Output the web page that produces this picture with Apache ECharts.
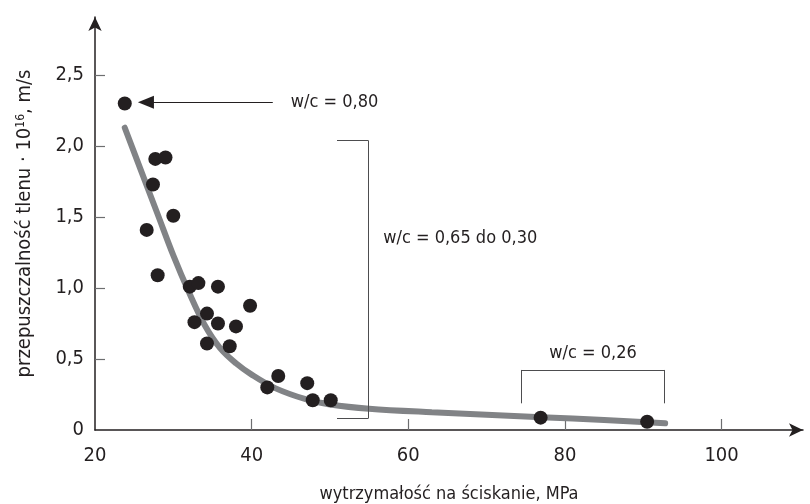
<!DOCTYPE html>
<html>
<head>
<meta charset="utf-8">
<script src="https://cdn.jsdelivr.net/npm/echarts@6/dist/echarts.min.js"></script>
<style>html,body{margin:0;padding:0;background:#fff}#c{width:810px;height:504px}</style>
</head>
<body>
<div id="c"></div>
<script>
// measured points: compressive strength (MPa) and oxygen permeability (·10^16 m/s)
var strengthX = [23.8, 27.7, 29.0, 27.4, 30.0, 26.6, 28.0, 32.1, 33.2, 35.7, 39.8, 34.3, 32.7, 35.7, 38.0, 34.3, 37.2, 42.0, 43.4, 47.1, 47.8, 50.1, 76.9, 90.5];
var permY     = [2.30, 1.91, 1.92, 1.73, 1.51, 1.41, 1.09, 1.01, 1.035, 1.01, 0.875, 0.82, 0.76, 0.75, 0.73, 0.61, 0.59, 0.30, 0.38, 0.33, 0.21, 0.21, 0.087, 0.058];
// fitted trend curve
var fitX = [23.8, 26, 28, 30, 32, 34, 36, 38, 40, 43, 47, 50, 55, 63, 70, 77, 85, 92.8];
var fitY = [2.13, 1.81, 1.52, 1.23, 0.97, 0.74, 0.575, 0.47, 0.39, 0.295, 0.215, 0.18, 0.15, 0.125, 0.108, 0.09, 0.07, 0.047];
// tick labels
var xTicks = [20, 40, 60, 80, 100];
var yTicks = [0, 0.5, 1.0, 1.5, 2.0, 2.5];
// annotation texts and their anchors (data coordinates)
var annoTexts = ['w/c = 0,80', 'w/c = 0,65 do 0,30', 'w/c = 0,26'];
var annoAnchors = [[45.0, 2.31], [56.8, 1.35], [83.6, 0.54]];
var annoAlign = ['left', 'left', 'center'];
// arrow (from, to) and brackets in data coordinates
var arrowFrom = [42.7, 2.31], arrowTo = [26.5, 2.31];
var bracket1 = [[50.9, 2.04], [54.9, 2.04], [54.9, 0.082], [50.9, 0.082]];
var bracket2 = [[74.4, 0.188], [74.4, 0.423], [92.7, 0.423], [92.7, 0.188]];

var FONT = "'Liberation Sans Narrow', 'DejaVu Sans Condensed', 'Roboto', sans-serif";
var INK = '#231f20';

function segs(pts) {
  var out = [];
  for (var i = 0; i < pts.length - 1; i++) {
    out.push([{coord: pts[i], symbol: 'none'}, {coord: pts[i + 1], symbol: 'none'}]);
  }
  return out;
}

var chart = echarts.init(document.getElementById('c'), null, {renderer: 'canvas'});
var pts = strengthX.map(function (x, i) { return [x, permY[i]]; });
var fit = fitX.map(function (x, i) { return [x, fitY[i]]; });
var fmtY = function (v) { return v === 0 ? '0' : v.toFixed(1).replace('.', ','); };
var fmtX = function (v) { return String(Math.round(v)); };

chart.setOption({
  animation: false,
  backgroundColor: '#fff',
  textStyle: {fontFamily: FONT},
  grid: {left: 95, right: 7, top: 17, bottom: 74, containLabel: false, outerBoundsMode: 'none'},
  xAxis: {
    type: 'value', min: 20, max: 110.4,
    name: 'wytrzymałość na ściskanie, MPa', nameLocation: 'middle', nameGap: 55,
    nameTextStyle: {fontFamily: FONT, fontSize: 18, color: INK},
    splitLine: {show: false},
    axisLine: {lineStyle: {color: INK, width: 1.5}, symbol: ['none', 'arrow'], symbolSize: [10, 14]},
    axisTick: {inside: true, length: 11, lineStyle: {color: '#6d6e70', width: 1.2}, customValues: xTicks.slice(1)},
    axisLabel: {customValues: xTicks, fontFamily: FONT, fontSize: 20, color: INK, margin: 16, formatter: fmtX}
  },
  yAxis: {
    type: 'value', min: 0, max: 2.91,
    name: 'przepuszczalność tlenu · 10{sup|16}, m/s', nameLocation: 'middle', nameGap: 60, nameRotate: 90,
    nameTextStyle: {fontFamily: FONT, fontSize: 20, color: INK,
      rich: {sup: {fontFamily: FONT, fontSize: 12, color: INK, verticalAlign: 'top', padding: [0, 0, 8, 0]}}},
    splitLine: {show: false},
    axisLine: {lineStyle: {color: INK, width: 1.5}, symbol: ['none', 'arrow'], symbolSize: [10, 14]},
    axisTick: {inside: true, length: 10, lineStyle: {color: '#6d6e70', width: 1.2}, customValues: yTicks.slice(1)},
    axisLabel: {customValues: yTicks, fontFamily: FONT, fontSize: 20, color: INK, margin: 11, formatter: fmtY}
  },
  series: [
    {
      type: 'line', data: fit, smooth: 0.35, showSymbol: false, silent: true, z: 2,
      lineStyle: {color: '#818386', width: 6, cap: 'round'},
      markLine: {
        silent: true, animation: false, symbol: 'none',
        label: {show: false},
        lineStyle: {color: '#4d4d4f', width: 1, type: 'solid'},
        emphasis: {disabled: true},
        data: segs(bracket1).concat(segs(bracket2))
      }
    },
    {
      type: 'scatter', data: pts, symbolSize: 14, z: 3, silent: true,
      itemStyle: {color: INK, opacity: 1},
      markLine: {
        silent: true, animation: false,
        symbolSize: [13, 16],
        label: {show: false},
        lineStyle: {color: INK, width: 1.2, type: 'solid'},
        emphasis: {disabled: true},
        data: [[{coord: arrowFrom, symbol: 'none'}, {coord: arrowTo, symbol: 'triangle'}]]
      }
    }
  ]
});

var gfx = annoTexts.map(function (t, i) {
  var p = chart.convertToPixel({gridIndex: 0}, annoAnchors[i]);
  return {
    type: 'text', x: p[0], y: p[1], silent: true,
    style: {text: t, fontFamily: FONT, fontSize: 18, fill: INK, align: annoAlign[i], verticalAlign: 'middle'}
  };
});
chart.setOption({graphic: gfx});
</script>
</body>
</html>
